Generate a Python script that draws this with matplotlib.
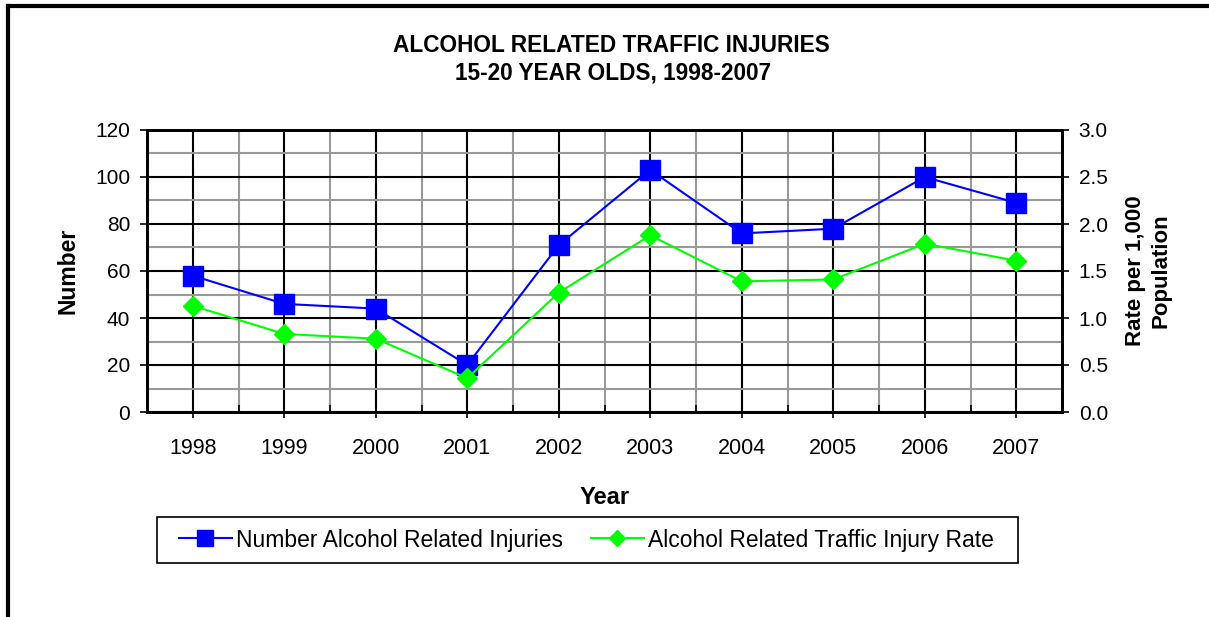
import matplotlib
matplotlib.use("Agg")
import matplotlib.pyplot as plt
from matplotlib.lines import Line2D
from matplotlib.patches import Rectangle
import numpy as np

years = ["1998", "1999", "2000", "2001", "2002", "2003", "2004", "2005", "2006", "2007"]
number_injuries = [58, 46, 44, 20, 71, 103, 76, 78, 100, 89]
injury_rate = [1.13, 0.83, 0.78, 0.36, 1.27, 1.88, 1.39, 1.41, 1.79, 1.61]
left_ticks = [0, 20, 40, 60, 80, 100, 120]
right_ticks = [0.0, 0.5, 1.0, 1.5, 2.0, 2.5, 3.0]

plt.rcParams['font.family'] = ['Liberation Sans', 'DejaVu Sans']

W, H = 1209, 617
fig = plt.figure(figsize=(W / 100, H / 100), dpi=100)
fig.patch.set_facecolor("white")

ax = fig.add_axes([147 / W, 1 - 412 / H, (1062 - 147) / W, (412 - 130) / H])
x = np.arange(len(years))

ax.set_xlim(-0.5, len(years) - 0.5)
ax.set_ylim(0, 120)
ax.set_yticks(left_ticks)
ax.set_yticks(np.arange(0, 121, 10), minor=True)
ax.set_xticks(x)
ax.set_xticklabels(years)
ax.set_xticks(np.arange(-0.5, len(years), 1.0), minor=True)

ax.grid(True, which="major", axis="both", color="black", linewidth=1.5, zorder=0)
ax.grid(True, which="minor", axis="both", color="#999999", linewidth=1.5, zorder=0)
ax.set_axisbelow(True)

ax.tick_params(axis="x", which="major", direction="out", length=4.5, width=1.2, pad=14.5, labelsize=15.5)
ax.tick_params(axis="x", which="minor", direction="in", length=5, width=1.2)
ax.tick_params(axis="y", which="major", direction="out", length=5, width=1.2, pad=7, labelsize=15)
ax.tick_params(axis="y", which="minor", length=0)
for s in ax.spines.values():
    s.set_linewidth(2)
    s.set_color("black")

l1, = ax.plot(x, number_injuries, color="#0000FF", linewidth=1.5, marker="s",
              markersize=14, markerfacecolor="#0000FF", markeredgecolor="#0000FF",
              zorder=5, label="Number Alcohol Related Injuries")

ax2 = ax.twinx()
ax2.set_ylim(0, 3.0)
ax2.set_yticks(right_ticks)
ax2.set_yticklabels([f"{v:.1f}" for v in right_ticks])
ax2.tick_params(axis="y", direction="out", length=5, width=1.2, pad=7, labelsize=15)
for s in ax2.spines.values():
    s.set_linewidth(2)
    s.set_color("black")
l2, = ax2.plot(x, injury_rate, color="#00FF00", linewidth=1.5, marker="D",
               markersize=10.5, markerfacecolor="#00FF00", markeredgecolor="#00FF00",
               zorder=5, label="Alcohol Related Traffic Injury Rate")

ax.set_ylabel("Number", fontsize=16.5, fontweight="bold", labelpad=11.5)
ax.set_xlabel("Year", fontsize=17, fontweight="bold", labelpad=19)
ax2.set_ylabel("Rate per 1,000\nPopulation", fontsize=16, fontweight="bold", labelpad=12,
               rotation=90, linespacing=1.3)

fig.text(611 / W, 1 - 45 / H, "ALCOHOL RELATED TRAFFIC INJURIES", ha="center", va="center",
         fontsize=16.3, fontweight="bold")
fig.text(613 / W, 1 - 73 / H, "15-20 YEAR OLDS, 1998-2007", ha="center", va="center",
         fontsize=16.3, fontweight="bold")

# legend frame
fig.add_artist(Rectangle((157 / W, 1 - 563 / H), (1018 - 157) / W, (563 - 517) / H,
                         transform=fig.transFigure, facecolor="white", edgecolor="black",
                         linewidth=1.2, zorder=1))
leg = fig.legend(handles=[l1, l2], loc="center", bbox_to_anchor=(586.5 / W, 1 - 540 / H),
                 ncol=2, fontsize=16.5, frameon=False,
                 handlelength=2.3, handletextpad=0.2, columnspacing=1.2,
                 borderpad=0.3, markerscale=0.82, borderaxespad=0)
leg.set_zorder(2)

# outer border (top and left)
fig.add_artist(Line2D([8 / W, 1.0], [1 - 6 / H, 1 - 6 / H], transform=fig.transFigure,
                      color="black", linewidth=3))
fig.add_artist(Line2D([8 / W, 8 / W], [1 - 6 / H, 0.0], transform=fig.transFigure,
                      color="black", linewidth=3))

fig.savefig("out.png", dpi=100, facecolor="white")
